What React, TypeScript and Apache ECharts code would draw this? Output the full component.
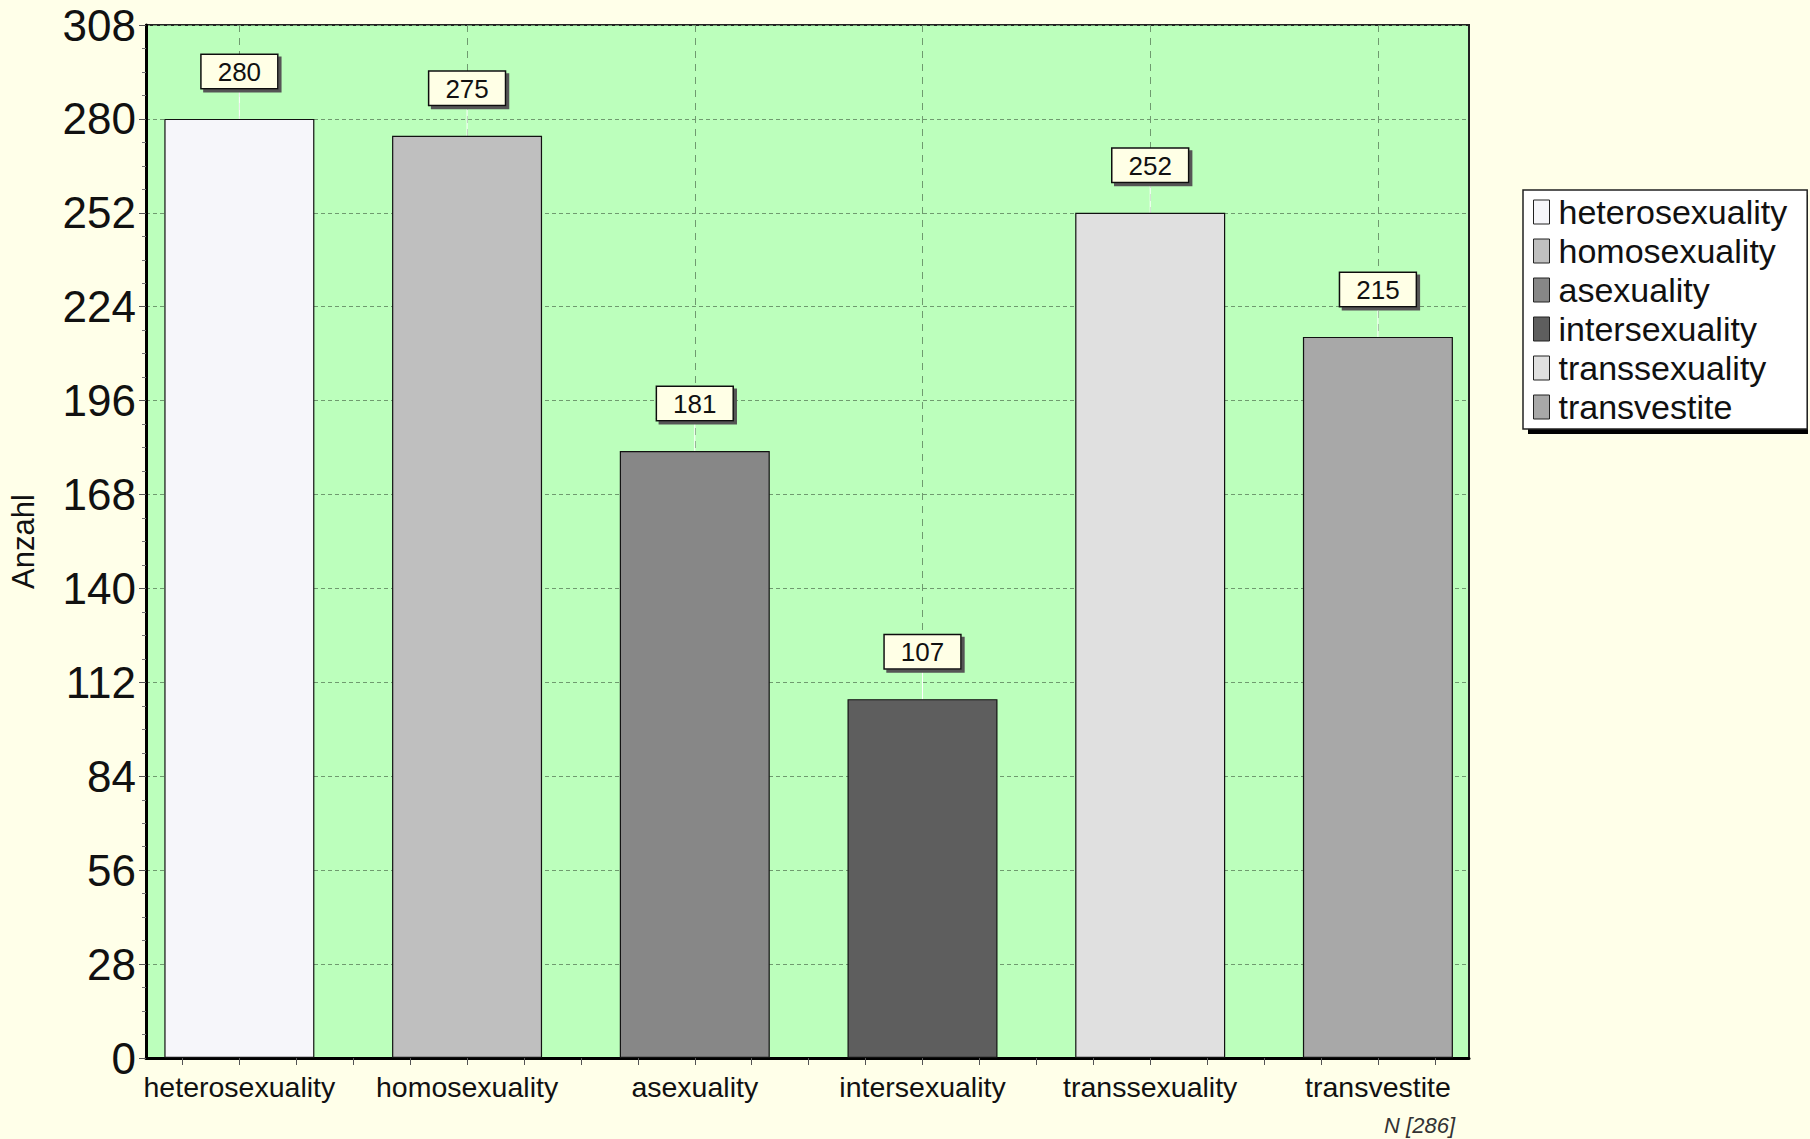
import React, { useEffect, useRef } from "react";
import * as echarts from "echarts";

const categories = [
  "heterosexuality",
  "homosexuality",
  "asexuality",
  "intersexuality",
  "transsexuality",
  "transvestite",
];
const counts = [280, 275, 181, 107, 252, 215];
const barColors = ["#f6f6fa", "#bfbfbf", "#878787", "#5e5e5e", "#e0e0e0", "#a8a8a8"];
const yMin = 0;
const yMax = 308;
const yInterval = 28;
const xMin = -0.41;
const xMax = 5.4;
const xTickValues = [-0.25, 0, 0.25, 0.5, 0.75, 1, 1.25, 1.5, 1.75, 2, 2.25, 2.5, 2.75, 3, 3.25, 3.5, 3.75, 4, 4.25, 4.5, 4.75, 5, 5.25];
const xCenters = [0, 1, 2, 3, 4, 5];
const axisName = "Anzahl";
const footnote = "N [286]";

const FONT = "'Liberation Sans', Arial, sans-serif";
const PAGE_BG = "#ffffe9";
const PLOT_BG = "#bcffbc";
const GRID_COLOR = "#6f9a6f";

export default function App() {
  const ref = useRef<HTMLDivElement>(null);

  useEffect(() => {
    document.body.style.margin = "0";
    document.body.style.background = PAGE_BG;
    if (!ref.current) return;
    const chart = echarts.init(ref.current, undefined, { renderer: "svg" });

    const series = categories.map((name, i) => ({
      type: "bar",
      name,
      xAxisIndex: 0,
      yAxisIndex: 0,
      data: [[xCenters[i], counts[i]]],
      barWidth: 150,
      barGap: "-100%",
      itemStyle: { color: barColors[i], borderColor: "#111", borderWidth: 1.2 },
      label: {
        show: true,
        position: "top",
        distance: 5,
        color: "#111",
        fontSize: 26,
        fontFamily: FONT,
        backgroundColor: "#ffffe6",
        borderColor: "#111",
        borderWidth: 1.5,
        padding: [4, 16, 3, 16],
        shadowColor: "#555",
        shadowBlur: 0,
        shadowOffsetX: 3,
        shadowOffsetY: 3,
        formatter: (p: any) => String(p.value[1]),
      },
      labelLayout: { dy: -26 },
      labelLine: { show: true, lineStyle: { color: "#ffffff", width: 1 } },
      emphasis: { disabled: true },
    }));

    const option: any = {
      animation: false,
      backgroundColor: PAGE_BG,
      textStyle: { fontFamily: FONT },
      grid: {
        left: 144,
        right: 341,
        top: 25,
        bottom: 81,
        show: true,
        backgroundColor: PLOT_BG,
        borderColor: "#222",
        borderWidth: 2,
      },
      legend: {
        orient: "vertical",
        left: 1523,
        top: 190,
        width: 280,
        data: categories,
        icon: "rect",
        itemWidth: 16,
        itemHeight: 24,
        itemGap: 5,
        padding: [5, 20, 5, 10],
        backgroundColor: "#ffffff",
        borderColor: "#222",
        borderWidth: 1.5,
        selectedMode: false,
        itemStyle: { borderColor: "#222", borderWidth: 1 },
        textStyle: { fontSize: 34, color: "#111", fontFamily: FONT, lineHeight: 34, padding: [0, 0, 0, 4] },
        z: 10,
      },
      graphic: [
        {
          type: "rect",
          z: 5,
          shape: { x: 1528, y: 195, width: 280, height: 239 },
          style: { fill: "#000" },
          silent: true,
        },
        {
          type: "text",
          x: 1455,
          y: 1125,
          style: {
            text: footnote,
            fontSize: 22,
            fontStyle: "italic",
            fontFamily: FONT,
            fill: "#333",
            align: "right",
            verticalAlign: "middle",
          },
        },
      ],
      xAxis: [
        {
          type: "value",
          min: xMin,
          max: xMax,
          position: "bottom",
          axisLine: { show: true, onZero: false, lineStyle: { color: "#000", width: 3 } },
          axisTick: { show: true, length: 7, customValues: xTickValues, lineStyle: { color: "#555", width: 1 } },
          axisLabel: {
            show: true,
            customValues: xCenters,
            margin: 14,
            fontSize: 28.5,
            color: "#111",
            fontFamily: FONT,
            formatter: (v: number) => categories[Math.round(v)] ?? "",
          },
          splitLine: { show: false },
        },
        {
          type: "value",
          min: xMin,
          max: xMax,
          position: "bottom",
          axisLine: { show: false, onZero: false },
          axisTick: { show: false, customValues: xCenters },
          axisLabel: { show: false, customValues: xCenters },
          splitLine: { show: true, lineStyle: { color: GRID_COLOR, type: [7, 6], width: 1 } },
        },
      ],
      yAxis: {
        type: "value",
        min: yMin,
        max: yMax,
        interval: yInterval,
        name: axisName,
        nameLocation: "middle",
        nameGap: 107,
        nameTextStyle: { fontSize: 31, color: "#111", fontFamily: FONT },
        axisLine: { show: true, onZero: false, lineStyle: { color: "#000", width: 3 } },
        axisTick: { show: true, length: 7, lineStyle: { color: "#555" } },
        minorTick: { show: true, splitNumber: 4, length: 4, lineStyle: { color: "#777" } },
        axisLabel: { margin: 10, fontSize: 44, color: "#111", fontFamily: FONT },
        splitLine: { show: true, lineStyle: { color: GRID_COLOR, type: [4, 3], width: 1 } },
      },
      series,
    };

    chart.setOption(option);
    return () => chart.dispose();
  }, []);

  return (
    <div
      ref={ref}
      style={{ position: "absolute", left: 0, top: 0, width: 1810, height: 1139, background: PAGE_BG }}
    />
  );
}
